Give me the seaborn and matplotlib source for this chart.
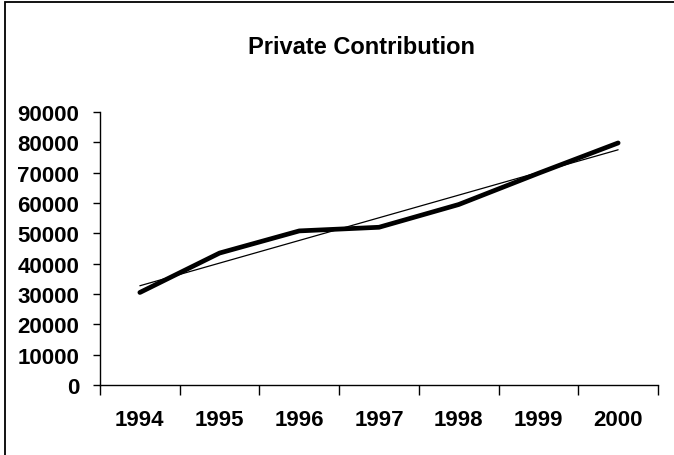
import numpy as np
import matplotlib
matplotlib.use("Agg")
import matplotlib.pyplot as plt
import seaborn as sns
from matplotlib.patches import Rectangle
from matplotlib.ticker import FixedLocator

years = ["1994", "1995", "1996", "1997", "1998", "1999", "2000"]
contribution = [30500, 43500, 50800, 52000, 59500, 69800, 79800]
y_ticks = [0, 10000, 20000, 30000, 40000, 50000, 60000, 70000, 80000, 90000]

sns.set_style("white")
plt.rcParams["font.family"] = ["Liberation Sans", "DejaVu Sans"]
plt.rcParams["font.weight"] = "bold"
plt.rcParams["text.color"] = "black"
plt.rcParams["xtick.color"] = "black"
plt.rcParams["ytick.color"] = "black"

fig = plt.figure(figsize=(6.74, 4.56), dpi=100)
ax = fig.add_axes([100 / 674, 1 - 386 / 456, 558 / 674, 273 / 456])

pos = np.arange(len(years))
sns.lineplot(x=pos, y=contribution, ax=ax, color="black", linewidth=3.4,
             solid_capstyle="round", solid_joinstyle="round")
# linear trend line like Excel's
sns.regplot(x=pos, y=np.array(contribution), ax=ax, scatter=False, ci=None,
            truncate=True, line_kws={"color": "black", "linewidth": 0.9})

ax.set_xlim(-0.5, len(years) - 0.5)
ax.set_ylim(0, 90000)
ax.set_yticks(y_ticks)
ax.set_yticklabels([str(v) for v in y_ticks])
ax.set_xticks(pos)
ax.set_xticklabels(years)
ax.xaxis.set_minor_locator(FixedLocator(np.arange(-0.5, len(years), 1.0)))
ax.tick_params(axis="x", which="major", length=0, pad=17, labelsize=16)
ax.tick_params(axis="x", which="minor", length=7, width=1, color="black",
               direction="out", bottom=True)
ax.tick_params(axis="y", length=5, width=1, color="black", direction="out",
               left=True, pad=10, labelsize=16)
ax.set_xlabel("")
ax.set_ylabel("")

sns.despine(ax=ax)
for side in ["left", "bottom"]:
    ax.spines[side].set_color("black")
    ax.spines[side].set_linewidth(1)

fig.text(361 / 674, 1 - 48 / 456, "Private Contribution", ha="center",
         va="center", fontsize=17, fontweight="bold", color="black")

# chart area border (cut off at the right and bottom)
fig.patches.append(Rectangle((5 / 674, -0.2), 1.2, 1.2 - 3 / 456,
                             transform=fig.transFigure, fill=False,
                             edgecolor="black", linewidth=1.3))

fig.savefig("out.png", dpi=100)
